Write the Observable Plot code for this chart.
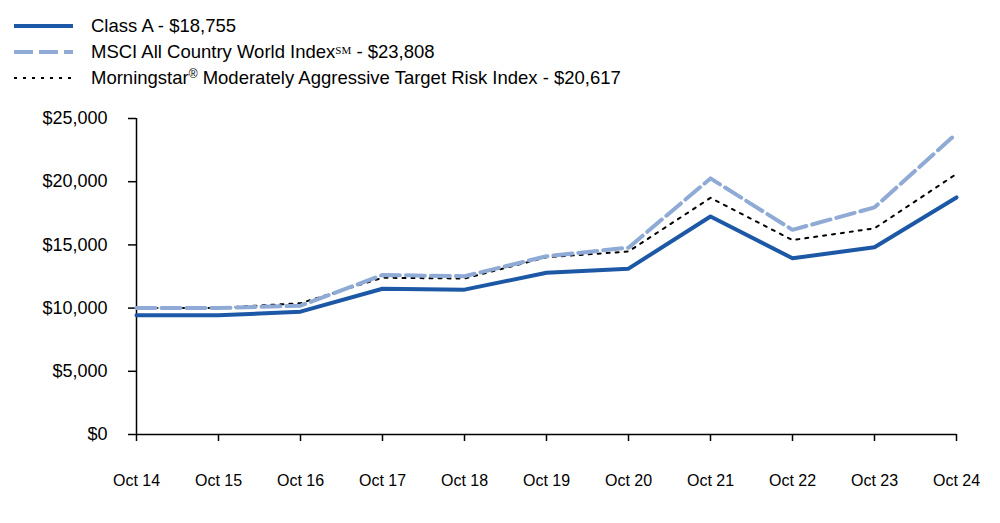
<!DOCTYPE html>
<html>
<head>
<meta charset="utf-8">
<script src="https://cdn.jsdelivr.net/npm/d3@7"></script>
<script src="https://cdn.jsdelivr.net/npm/@observablehq/plot@0.6"></script>
<style>
  html, body { margin: 0; padding: 0; background: #fff; }
  #wrap { position: relative; width: 1000px; height: 523px; font-family: "Liberation Sans", Arial, sans-serif; color: #000; }
  #legend { position: absolute; left: 0; top: 0; width: 1000px; height: 100px; }
  .row { position: absolute; left: 14px; height: 26px; display: flex; align-items: center; font-size: 18.5px; white-space: nowrap; }
  .row svg { width: 60px; height: 10px; margin-right: 17px; }
  .sup { font-size: 12px; position: relative; top: -6px; }
  .sm { font-family: "Liberation Serif", serif; font-size: 11px; position: relative; top: -4px; }
  #chart { position: absolute; left: 0; top: 100px; }
</style>
</head>
<body>
<div id="wrap">
  <div id="legend"></div>
  <div id="chart"></div>
</div>
<script>
const years = ["Oct 14","Oct 15","Oct 16","Oct 17","Oct 18","Oct 19","Oct 20","Oct 21","Oct 22","Oct 23","Oct 24"];
const classA = [9425, 9430, 9720, 11530, 11460, 12790, 13120, 17250, 13940, 14810, 18755];
const msci = [10000, 10010, 10190, 12620, 12520, 14100, 14780, 20260, 16190, 17970, 23808];
const morningstar = [10000, 10020, 10390, 12400, 12340, 14020, 14480, 18720, 15380, 16310, 20617];
const yTicks = [0, 5000, 10000, 15000, 20000, 25000];

const legendLabels = [
  "Class A - $18,755",
  "MSCI All Country World Index<span class='sm'>SM</span> - $23,808",
  "Morningstar<span class='sup'>®</span> Moderately Aggressive Target Risk Index - $20,617"
];
const styles = [
  {stroke: "#1c58a6", width: 4, dash: null},
  {stroke: "#8eaad5", width: 4, dash: "19,6"},
  {stroke: "#000000", width: 2, dash: "3,6"}
];

// legend
const legend = document.getElementById("legend");
const rowTops = [13, 39, 65];
legendLabels.forEach((lab, i) => {
  const s = styles[i];
  const row = document.createElement("div");
  row.className = "row";
  row.style.top = rowTops[i] + "px";
  row.innerHTML = `<svg viewBox="0 0 60 10"><line x1="0" y1="5" x2="59" y2="5" stroke="${s.stroke}" stroke-width="${s.width}" ${s.dash ? `stroke-dasharray="${s.dash}"` : ""}/></svg><span>${lab}</span>`;
  legend.appendChild(row);
});

const toRows = (vals) => years.map((y, i) => ({year: y, value: vals[i]}));
const dataA = toRows(classA), dataM = toRows(msci), dataS = toRows(morningstar);

const fmt = d => "$" + d3.format(",")(d);

const plot = Plot.plot({
  width: 1000,
  height: 423,
  marginTop: 18,
  marginBottom: 89,
  marginLeft: 136,
  marginRight: 44,
  style: {fontFamily: "Liberation Sans, Arial, sans-serif", color: "#000", background: "#fff"},
  x: {type: "point", domain: years, padding: 0, label: null},
  y: {domain: [0, 25000], label: null},
  marks: [
    Plot.axisY({ticks: yTicks, tickFormat: fmt, tickSize: 8, tickPadding: 21, fontSize: 18, stroke: "#000", strokeWidth: 1.5, label: null}),
    Plot.axisX({tickSize: 7, tickPadding: 33, fontSize: 16, stroke: "#000", strokeWidth: 1.5, label: null}),
    Plot.ruleY([0], {stroke: "#000", strokeWidth: 1.5}),
    Plot.ruleX([years[0]], {y1: 0, y2: 25000, stroke: "#000", strokeWidth: 1.5}),
    Plot.line(dataA, {x: "year", y: "value", stroke: styles[0].stroke, strokeWidth: styles[0].width}),
    Plot.line(dataS, {x: "year", y: "value", stroke: styles[2].stroke, strokeWidth: styles[2].width, strokeDasharray: styles[2].dash}),
    Plot.line(dataM, {x: "year", y: "value", stroke: styles[1].stroke, strokeWidth: styles[1].width, strokeDasharray: styles[1].dash})
  ]
});
document.getElementById("chart").appendChild(plot);
</script>
</body>
</html>
